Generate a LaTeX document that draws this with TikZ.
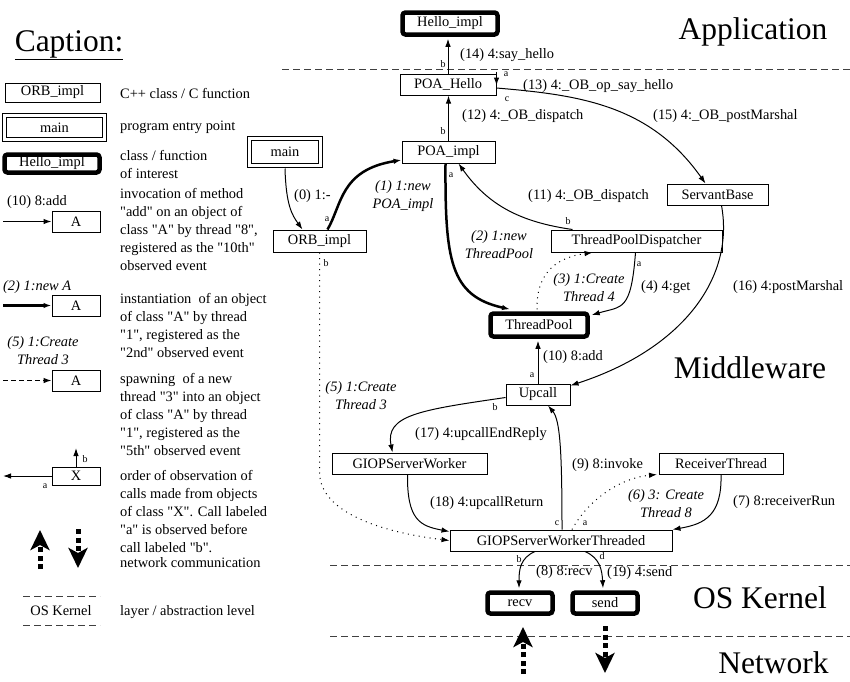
\documentclass[tikz,border=0pt]{standalone}
\usepackage{fontspec}
\setmainfont{Liberation Serif}[Ligatures=TeXOff]
\usetikzlibrary{arrows.meta}

\newcommand\normsize{\fontsize{14.4}{18}\selectfont}
\newcommand\tagsize{\fontsize{10}{12}\selectfont}
\newcommand\layersize{\fontsize{31.5}{36}\selectfont}

\tikzset{
    cls/.style={draw, line width=1pt, minimum height=21, inner sep=0pt, font=\normsize},
    entry/.style={cls, double, double distance=3pt},
    interest/.style={cls, line width=4.5pt, rounded corners=3pt},
    call/.style={line width=1pt, -{Latex[length=8pt,width=5.5pt]}},
    create/.style={call, line width=2.5pt},
    spawn/.style={call, dash pattern=on 1pt off 4.5pt},
    net/.style={line width=5pt, dash pattern=on 5pt off 3.5pt, -{Stealth[length=20pt,width=19pt,inset=5pt]}},
    tag/.style={font=\tagsize, inner sep=0pt},
    lbl/.style={font=\normsize, inner sep=0pt, anchor=west},
    ilbl/.style={font=\normsize\itshape, inner sep=0pt, align=center},
    txt/.style={font=\normsize, inner sep=0pt, anchor=west, align=left},
    layer/.style={line width=1pt, black!75, dash pattern=on 7pt off 4pt},
    layername/.style={font=\layersize, inner sep=0pt}
}

\begin{document}
\begin{tikzpicture}[x=1pt, y=-1pt]
    \useasboundingbox (0,0) rectangle (850,681);

    \node[layername] (captitle) at (69,45) {\underline{Caption:}};

    \node[cls, minimum width=95, minimum height=19] (capclass) at (52.5,92.5) {ORB\_impl};
    \node[txt] (capclasstxt) at (120,93) {C++ class / C function};
    \node[entry, minimum width=100, minimum height=24] (capentry) at (54.5,127.5) {main};
    \node[txt] (capentrytxt) at (120,127) {program entry point};
    \node[interest, minimum width=95, minimum height=18] (capinterest) at (52,163.5) {Hello\_impl};
    \node[txt] (capinteresttxt) at (120,164) {class / function\\of interest};

    \node[cls, minimum width=48] (capcall) at (76,221.5) {A};
    \coordinate (capcallstart) at (3,221.5);
    \draw[call] (capcallstart) -- (capcall);
    \node[lbl] (capcalllbl) at (7,202) {(10) 8:add};
    \node[txt] (capcalltxt) at (120,229) {invocation of method\\"add" on an object of\\class "A" by thread "8",\\registered as the "10th"\\observed event};

    \node[cls, minimum width=48] (capcreate) at (76,305.5) {A};
    \coordinate (capcreatestart) at (3,305.5);
    \draw[create] (capcreatestart) -- (capcreate);
    \node[ilbl, anchor=west] (capcreatelbl) at (3,287) {(2) 1:new A};
    \node[txt] (capcreatetxt) at (120,325.5) {instantiation\ \ of an object\\of class "A" by thread\\"1", registered as the\\"2nd" observed event};

    \node[cls, minimum width=48] (capspawn) at (76,380.5) {A};
    \coordinate (capspawnstart) at (3,380.5);
    \draw[call, dash pattern=on 5pt off 3pt] (capspawnstart) -- (capspawn);
    \node[ilbl] (capspawnlbl) at (43,351) {(5) 1:Create\\Thread 3};
    \node[txt] (capspawntxt) at (120,414.5) {spawning\ \ of a new\\thread "3" into an object\\of class "A" by thread\\"1", registered as the\\"5th" observed event};

    \node[cls, minimum width=48, minimum height=18] (caporder) at (76,476) {X};
    \coordinate (caporderleft) at (3,476);
    \coordinate (caporderup) at (76,448);
    \draw[call] (caporder.west) -- (caporderleft);
    \draw[call] (caporder.north) -- (caporderup);
    \node[tag] (caportaga) at (45,486) {a};
    \node[tag] (caportagb) at (85,459) {b};
    \node[txt] (capordertxt) at (120,512) {order of observation of\\calls made from objects\\of class "X". Call labeled\\"a" is observed before\\call labeled "b".};

    \coordinate (capupfoot) at (40,569);
    \coordinate (capuptip) at (40,530);
    \coordinate (capdownfoot) at (78,529);
    \coordinate (capdowntip) at (78,568);
    \draw[net] (capupfoot) -- (capuptip);
    \draw[net] (capdownfoot) -- (capdowntip);
    \node[txt] (capnettxt) at (120,563) {network communication};

    \draw[layer] (23,596) -- (100,596);
    \draw[layer] (23,625) -- (100,625);
    \node[font=\normsize, inner sep=0pt] (caplayer) at (61,611) {OS Kernel};
    \node[txt] (caplayertxt) at (120,612) {layer / abstraction level};

    \draw[layer] (282,69) -- (850,69);
    \draw[layer] (330,565) -- (850,565);
    \draw[layer] (330,636) -- (850,636);
    \node[layername] (application) at (753,32) {Application};
    \node[layername] (middleware) at (750,368) {Middleware};
    \node[layername] (oskernel) at (760,598) {OS Kernel};
    \node[layername] (network) at (773.5,663) {Network};

    \node[interest, minimum width=95, minimum height=22] (helloimpl) at (450,23.5) {Hello\_impl};
    \node[cls, minimum width=96] (poahello) at (448,84.5) {POA\_Hello};
    \node[cls, minimum width=93, minimum height=22] (poaimpl) at (448.5,152) {POA\_impl};
    \node[entry, minimum width=71, minimum height=27] (mainbox) at (285,152) {main};
    \node[cls, minimum width=93, minimum height=22] (orbimpl) at (319.5,241) {ORB\_impl};
    \node[cls, minimum width=101] (servantbase) at (717.5,194.5) {ServantBase};
    \node[cls, minimum width=171, minimum height=22] (tpd) at (636.5,241) {ThreadPoolDispatcher};
    \node[interest, minimum width=97, minimum height=23] (threadpool) at (539,325) {ThreadPool};
    \node[cls, minimum width=64] (upcall) at (538,394.5) {Upcall};
    \node[cls, minimum width=155] (gsw) at (409.5,463.5) {GIOPServerWorker};
    \node[cls, minimum width=124] (rt) at (721,463.5) {ReceiverThread};
    \node[cls, minimum width=222] (gswt) at (561,540.5) {GIOPServerWorkerThreaded};
    \node[interest, minimum width=65] (recv) at (520,603) {recv};
    \node[interest, minimum width=65] (send) at (605,603) {send};

    \draw[call] ([yshift=-2.5pt]mainbox.south) .. controls (286,205) and (292,215) .. ([xshift=-17pt]orbimpl.north);
    \node[lbl] (l0) at (294,196) {(0) 1:-};
    \draw[create] ([xshift=8pt]orbimpl.north) .. controls (342,205) and (340,170) .. ([yshift=-8pt]poaimpl.west);
    \node[ilbl] (l1) at (403,196) {(1) 1:new\\POA\_impl};
    \node[tag] (t1) at (327,219) {a};
    \draw[create] ([xshift=-3pt]poaimpl.south) .. controls (445,260) and (450,296) .. ([xshift=-29pt,yshift=2pt]threadpool.north);
    \node[ilbl] (l2) at (499,244.5) {(2) 1:new\\ThreadPool};
    \node[tag] (t2) at (451,175) {a};
    \draw[spawn] ([xshift=-2pt,yshift=2pt]threadpool.north) .. controls (536,270) and (560,257) .. ([xshift=-44pt]tpd.south);
    \node[ilbl] (l3) at (589,288) {(3) 1:Create\\Thread 4};
    \draw[call] ([xshift=-1pt]tpd.south) .. controls (631,312) and (622,306) .. ([xshift=2pt,yshift=10pt]threadpool.east);
    \node[lbl] (l4) at (641,287) {(4) 4:get};
    \node[tag] (t4) at (639,264) {a};
    \draw[spawn] (orbimpl.south) -- ++(0,220) .. controls (320,512) and (380,532) .. (gswt.west);
    \node[ilbl] (l5) at (361,396) {(5) 1:Create\\Thread 3};
    \node[tag] (t5) at (326,263) {b};
    \draw[spawn] ([xshift=11pt]gswt.north) .. controls (588,500) and (620,478) .. ([xshift=-64pt]rt.south);
    \node[ilbl] (l6) at (666,504) {(6) 3: Create\\Thread 8};
    \node[tag] (t6) at (585,523) {a};
    \draw[call] (rt.south) .. controls (722,515) and (705,524) .. (gswt.north east);
    \node[lbl] (l7) at (733,502) {(7) 8:receiverRun};
    \draw[call] ([xshift=-26pt]gswt.south) .. controls (520,558) and (519,570) .. ([xshift=-1pt,yshift=2pt]recv.north);
    \node[lbl] (l8) at (536,572) {(8) 8:recv};
    \node[tag] (t8) at (519,559) {b};
    \draw[call] ([xshift=1pt]gswt.north) .. controls (562,450) and (560,420) .. ([xshift=10pt]upcall.south);
    \node[lbl] (l9) at (572,465) {(9) 8:invoke};
    \node[tag] (t9) at (557,523) {c};
    \draw[call] (upcall.north) -- ([yshift=-2pt]upcall.north |- threadpool.south);
    \node[lbl] (l10) at (543,357) {(10) 8:add};
    \node[tag] (t10) at (532,375) {a};
    \draw[call] ([xshift=-64pt]tpd.north) .. controls (520,222) and (488,205) .. ([xshift=10pt]poaimpl.south);
    \node[lbl] (l11) at (528,196) {(11) 4:\_OB\_dispatch};
    \node[tag] (t11) at (568,221) {b};
    \draw[call] (poaimpl.north) -- (poaimpl.north |- poahello.south);
    \node[lbl] (l12) at (462,116) {(12) 4:\_OB\_dispatch};
    \node[tag] (t12) at (443,131) {b};
    \draw[call] ([yshift=2pt]poahello.north east) -- ([yshift=-12pt]poahello.north east);
    \node[lbl] (l13) at (523,86) {(13) 4:\_OB\_op\_say\_hello};
    \node[tag] (t13) at (506,74) {a};
    \draw[call] (poahello.north) -- ([yshift=-2pt]poahello.north |- helloimpl.south);
    \node[lbl] (l14) at (460,55) {(14) 4:say\_hello};
    \node[tag] (t14) at (443,64) {b};
    \draw[call] ([yshift=-3.5pt]poahello.east) .. controls (580,95) and (650,105) .. ([xshift=-12pt]servantbase.north);
    \node[lbl] (l15) at (653,116) {(15) 4:\_OB\_postMarshal};
    \node[tag] (t15) at (507,99) {c};
    \draw[call] ([xshift=4pt]servantbase.south) .. controls (735,280) and (680,350) .. ([yshift=9pt]upcall.east);
    \node[lbl] (l16) at (733,287) {(16) 4:postMarshal};
    \draw[call] ([yshift=-3pt]upcall.west) .. controls (420,410) and (385,415) .. ([xshift=-17pt]gsw.north);
    \node[lbl] (l17) at (415,434) {(17) 4:upcallEndReply};
    \node[tag] (t17) at (495,407) {b};
    \draw[call] ([xshift=-2pt]gsw.south) .. controls (407,520) and (420,526) .. ([yshift=-2pt]gswt.north west);
    \node[lbl] (l18) at (430,503) {(18) 4:upcallReturn};
    \draw[call] ([xshift=24pt]gswt.south) .. controls (600,558) and (602,570) .. ([xshift=-2pt,yshift=2pt]send.north);
    \node[lbl] (l19) at (607,573) {(19) 4:send};
    \node[tag] (t19) at (602,556) {d};

    \coordinate (netinfoot) at (523,674);
    \coordinate (netintip) at (523,627);
    \coordinate (netoutfoot) at (605,626);
    \coordinate (netouttip) at (605,673);
    \draw[net] (netinfoot) -- (netintip);
    \draw[net] (netoutfoot) -- (netouttip);
\end{tikzpicture}
\end{document}
